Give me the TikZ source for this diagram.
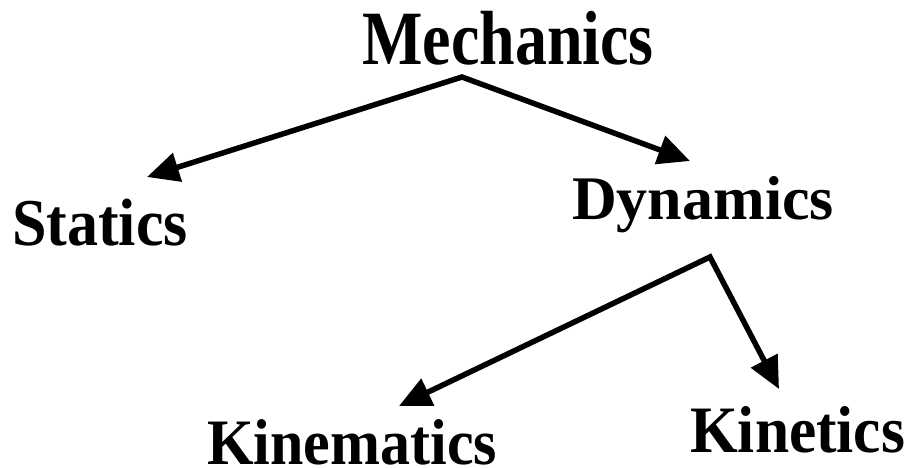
\documentclass[tikz,border=0pt]{standalone}
\usepackage{fontspec}
\setmainfont{Liberation Serif}
\usepackage{tikz}
\usetikzlibrary{arrows.meta, positioning}

\begin{document}
\begin{tikzpicture}[
  x=1pt, y=-1pt,
  term/.style={font=\fontsize{#1}{#1}\selectfont\bfseries, inner sep=0pt, anchor=base west},
  branch/.style={line width=5.5pt, line join=miter, {Triangle[length=32pt,width=29pt]}-{Triangle[length=32pt,width=29pt]}}
]
  \useasboundingbox (0,0) rectangle (915,468);

  \node[term=64, yscale=1.2]  (mech)  at (362,65)  {Mechanics};
  \node[term=62, yscale=1.08] (stat)  at (12,245)  {Statics};
  \node[term=62, yscale=1.0]  (dyn)   at (572,219) {Dynamics};
  \node[term=60, yscale=1.08] (kinem) at (207,464) {Kinematics};
  \node[term=61.4, yscale=1.08] (kinet) at (690,452) {Kinetics};

  % fork points and arrow ends
  \coordinate (mfork)   at (462,77);
  \coordinate (stattip) at (147,177);
  \coordinate (dyntip)  at (690,161);
  \coordinate (dfork)   at (710,257);
  \coordinate (kmtip)   at (399,406);
  \coordinate (kttip)   at (779,389);

  \draw[branch] (stattip) -- (mfork) -- (dyntip);
  \draw[branch] (kmtip) -- (dfork) -- (kttip);
\end{tikzpicture}
\end{document}
